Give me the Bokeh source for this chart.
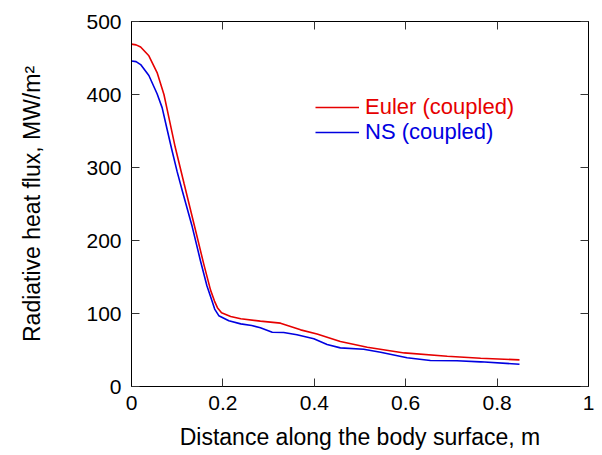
from bokeh.plotting import figure
from bokeh.models import Legend, LegendItem, LinearAxis, FixedTicker
from bokeh.embed import file_html
from bokeh.resources import INLINE

# Data
x_euler = [0, 0.01, 0.02, 0.038, 0.056, 0.071, 0.083, 0.0956, 0.115, 0.137, 0.158,
           0.173, 0.1816, 0.188, 0.197, 0.217, 0.239, 0.282, 0.326, 0.37, 0.406,
           0.457, 0.516, 0.597, 0.691, 0.764, 0.849]
y_euler = [469, 468, 465, 453, 430, 400, 365, 328, 278, 222, 168,
           132, 117, 108, 101, 96, 92.7, 89.5, 86.8, 77.6, 72,
           61.6, 53.8, 46, 41.5, 38.8, 36.5]

x_ns = [0, 0.01, 0.02, 0.038, 0.056, 0.067, 0.078, 0.088, 0.1, 0.112, 0.132,
        0.151, 0.165, 0.1757, 0.182, 0.191, 0.213, 0.239, 0.263, 0.282, 0.308,
        0.333, 0.362, 0.399, 0.428, 0.457, 0.508, 0.545, 0.603, 0.654, 0.712,
        0.764, 0.849]
y_ns = [446, 445, 441, 426, 401, 382, 352, 325, 294, 266, 221,
        172, 138, 118, 106, 97, 90, 85.8, 83.6, 80.4, 74.4,
        74, 70.8, 65.3, 57.5, 52.9, 51, 47, 39.3, 35.6, 35.2,
        33.8, 30.5]

x_ticks = [0, 0.2, 0.4, 0.6, 0.8, 1]
x_tick_labels = ["0", "0.2", "0.4", "0.6", "0.8", "1"]
y_ticks = [0, 100, 200, 300, 400, 500]
y_tick_labels = ["0", "100", "200", "300", "400", "500"]

series_labels = ["Euler (coupled)", "NS (coupled)"]
x_title = "Distance along the body surface, m"
y_title = "Radiative heat flux, MW/m\u00b2"

RED = "#e60000"
BLUE = "#0000e0"
TICK = "#333333"
FONT = "Liberation Sans"

p = figure(width=602, height=455, output_backend="svg", toolbar_location=None,
           x_range=(0, 1), y_range=(0, 500),
           min_border_left=131, min_border_right=14,
           min_border_top=21, min_border_bottom=69)
p.grid.visible = False
p.outline_line_color = "black"
p.outline_line_width = 1
p.background_fill_color = "white"
p.border_fill_color = "white"

r1 = p.line(x_euler, y_euler, line_color=RED, line_width=1.6)
r2 = p.line(x_ns, y_ns, line_color=BLUE, line_width=1.6)

def style_axis(ax, ticks, labels, show_labels=True):
    ax.ticker = FixedTicker(ticks=ticks)
    ax.major_label_overrides = {t: l for t, l in zip(ticks, labels)}
    ax.major_tick_in = 8
    ax.major_tick_out = 0
    ax.minor_tick_in = 0
    ax.minor_tick_out = 0
    ax.axis_line_color = "black"
    ax.major_tick_line_color = TICK
    ax.major_tick_line_width = 1
    ax.major_label_text_font = FONT
    ax.major_label_text_font_size = "21px"
    ax.major_label_text_color = "black" if show_labels else None
    ax.axis_label_text_font = FONT
    ax.axis_label_text_font_size = "23px"
    ax.axis_label_text_font_style = "normal"
    ax.axis_label_text_color = "black"

xa = p.xaxis[0]
ya = p.yaxis[0]
style_axis(xa, x_ticks, x_tick_labels)
style_axis(ya, y_ticks, y_tick_labels)
xa.axis_label = x_title
ya.axis_label = y_title
xa.major_label_standoff = 9
ya.major_label_standoff = 10
xa.axis_label_standoff = 11
ya.axis_label_standoff = 38

top = LinearAxis()
right = LinearAxis()
style_axis(top, x_ticks, x_tick_labels, show_labels=False)
style_axis(right, y_ticks, y_tick_labels, show_labels=False)
top.major_label_text_font_size = "0px"
right.major_label_text_font_size = "0px"
top.major_label_standoff = 0
right.major_label_standoff = 0
p.add_layout(top, "above")
p.add_layout(right, "right")

for r, lab, col, off in [(r1, series_labels[0], RED, 266), (r2, series_labels[1], BLUE, 241)]:
    lg = Legend(items=[LegendItem(label=lab, renderers=[r])], location=(184, off),
                background_fill_alpha=0, border_line_alpha=0,
                glyph_width=44, glyph_height=20, label_height=20,
                label_standoff=6, padding=0, margin=0, spacing=0,
                label_text_font=FONT, label_text_font_size="22px",
                label_text_color=col)
    p.add_layout(lg, "center")

open("out.html", "w").write(file_html(p, INLINE))
